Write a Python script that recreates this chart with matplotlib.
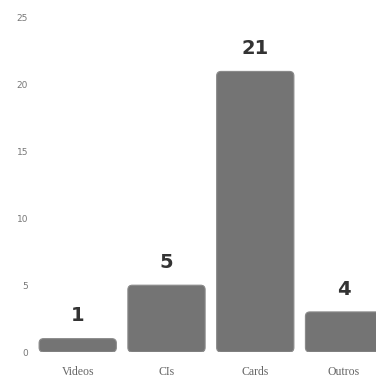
import numpy as np
from matplotlib import pyplot as plt
from matplotlib.patches import FancyBboxPatch

categories = ['Videos', 'CIs', 'Cards', 'Outros']
heights = [1, 5, 21, 3]
labels = ['1', '5', '21', '4']
yticks = [0, 5, 10, 15, 20, 25]

fig = plt.figure(figsize=(3.76, 3.77), dpi=100)
ax = fig.add_axes([0.0745, 0.0663, 0.9255, 0.886])

x = np.arange(len(categories))
bars = ax.bar(x, heights, width=0.87, color='none')
for b in bars:
    p = FancyBboxPatch((b.get_x(), 0), b.get_width(), b.get_height(),
                       boxstyle='round,pad=0,rounding_size=0.05',
                       mutation_aspect=6.6, fc='#747474', ec='#8a8a8a', lw=0.8)
    ax.add_patch(p)

for xi, h, lab in zip(x, heights, labels):
    ax.text(xi, h + 1.7, lab, ha='center', va='center', fontsize=14,
            fontweight='bold', color='#333333', family='DejaVu Sans')

ax.set_xlim(-0.56, 3.36)
ax.set_ylim(0, 25)
ax.set_xticks(x)
ax.set_xticklabels(categories, fontsize=8.5, color='#666666', family='Liberation Serif')
ax.set_yticks(yticks)
ax.set_yticklabels([str(t) for t in yticks], fontsize=6.5, color='#777777')
ax.tick_params(axis='x', length=0, pad=10)
ax.tick_params(axis='y', length=0, pad=0)
for s in ax.spines.values():
    s.set_visible(False)

plt.savefig('out.png', dpi=100)
